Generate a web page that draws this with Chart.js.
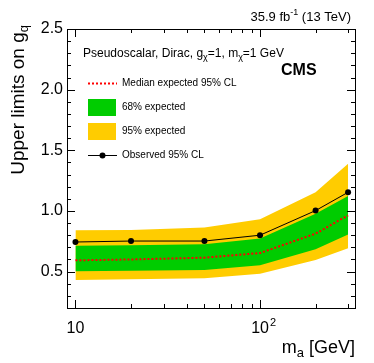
<!DOCTYPE html>
<html><head><meta charset="utf-8">
<script src="https://cdn.jsdelivr.net/npm/chart.js@4.4.1/dist/chart.umd.min.js"></script>
<style>html,body{margin:0;padding:0;background:#fff;}#wrap{width:374px;height:363px;}</style>
</head><body><div id="wrap"><canvas id="c" width="374" height="363"></canvas></div>
<script>
const mass = [10, 20, 50, 100, 200, 300];
const observed = [0.744, 0.752, 0.752, 0.800, 1.003, 1.154];
const median = [0.593, 0.600, 0.615, 0.653, 0.813, 0.964];
const band68Lo = [0.502, 0.508, 0.513, 0.552, 0.684, 0.805];
const band68Hi = [0.714, 0.718, 0.725, 0.772, 0.978, 1.123];
const band95Lo = [0.431, 0.437, 0.445, 0.483, 0.596, 0.692];
const band95Hi = [0.840, 0.843, 0.863, 0.931, 1.154, 1.390];
const xMajorTicks = [10, 100];
const xTickLabels = [['10',''], ['10','2']];
const xMinorTicks = [20,30,40,50,60,70,80,90,200,300];
const yMajorTicks = [0.5, 1.0, 1.5, 2.0, 2.5];
const yTickLabels = ['0.5','1.0','1.5','2.0','2.5'];
const yMinorTicks = [0.3,0.4,0.6,0.7,0.8,0.9,1.1,1.2,1.3,1.4,1.6,1.7,1.8,1.9,2.1,2.2,2.3,2.4];
const legendLabels = ['Median expected 95% CL','68% expected','95% expected','Observed 95% CL'];

const FONT = '"Liberation Sans", Arial, Helvetica, sans-serif';
const GREEN = '#00cc00', YELLOW = '#ffcc00';
const pts = arr => mass.map((m,i)=>({x:m, y:arr[i]}));

const overlay = {
  id:'overlay',
  afterDraw(chart){
    const ctx = chart.ctx, a = chart.chartArea, xs = chart.scales.x, ys = chart.scales.y;
    ctx.save();
    ctx.strokeStyle = '#000'; ctx.lineWidth = 1;
    ctx.strokeRect(Math.round(a.left)+0.5, Math.round(a.top)+0.5, Math.round(a.right-a.left), Math.round(a.bottom-a.top));
    ctx.beginPath();
    const tick = (v, len, isX) => {
      if (isX) {
        const px = Math.round(xs.getPixelForValue(v))+0.5;
        ctx.moveTo(px, a.bottom); ctx.lineTo(px, a.bottom-len);
        ctx.moveTo(px, a.top); ctx.lineTo(px, a.top+len);
      } else {
        const py = Math.round(ys.getPixelForValue(v))+0.5;
        ctx.moveTo(a.left, py); ctx.lineTo(a.left+len, py);
        ctx.moveTo(a.right, py); ctx.lineTo(a.right-len, py);
      }
    };
    xMajorTicks.forEach(v=>tick(v,8,true));
    xMinorTicks.forEach(v=>tick(v,4,true));
    yMajorTicks.forEach(v=>tick(v,8,false));
    yMinorTicks.forEach(v=>tick(v,4,false));
    ctx.stroke();

    ctx.fillStyle = '#000';
    ctx.font = '16px ' + FONT; ctx.textAlign = 'right'; ctx.textBaseline = 'middle';
    yMajorTicks.forEach((v,i)=>ctx.fillText(yTickLabels[i], a.left-4, ys.getPixelForValue(v)));
    xMajorTicks.forEach((v,i)=>{
      const px = xs.getPixelForValue(v);
      const [b,e] = xTickLabels[i];
      ctx.font = '16px ' + FONT; ctx.textAlign = 'center'; ctx.textBaseline = 'alphabetic';
      ctx.fillText(b, px, 333);
      if (e) {
        const w = ctx.measureText(b).width;
        ctx.font = '11px ' + FONT; ctx.textAlign = 'left';
        ctx.fillText(e, px + w/2 + 1, 326);
      }
    });
    // x title
    ctx.textAlign = 'left'; ctx.textBaseline = 'alphabetic';
    const t1 = 'm', t2 = ' [GeV]';
    ctx.font = '13px ' + FONT; const wa = ctx.measureText('a').width;
    ctx.font = '18px ' + FONT;
    const w1 = ctx.measureText(t1).width, w2 = ctx.measureText(t2).width;
    let xs0 = a.right - (w1+wa+w2);
    ctx.fillText(t1, xs0, 353);
    ctx.font = '13px ' + FONT; ctx.fillText('a', xs0+w1, 357);
    ctx.font = '18px ' + FONT; ctx.fillText(t2, xs0+w1+wa, 353);
    // y title
    ctx.save();
    ctx.font = '19px ' + FONT;
    const yt = 'Upper limits on g';
    const wy = ctx.measureText(yt).width;
    ctx.font = '13px ' + FONT; const wq = ctx.measureText('q').width;
    const total = wy + wq;
    ctx.translate(24, 25 + total);
    ctx.rotate(-Math.PI/2);
    ctx.font = '19px ' + FONT; ctx.textAlign='left';
    ctx.fillText(yt, 0, 0);
    ctx.font = '13px ' + FONT; ctx.fillText('q', wy, 4);
    ctx.restore();

    // lumi
    ctx.textAlign = 'left';
    ctx.font = '13px ' + FONT;
    const l1 = '35.9 fb', l3 = ' (13 TeV)';
    const wl1 = ctx.measureText(l1).width, wl3 = ctx.measureText(l3).width;
    ctx.font = '9px ' + FONT; const wl2 = ctx.measureText('-1').width;
    let lx = 351 - (wl1+wl2+wl3);
    ctx.font = '13px ' + FONT; ctx.fillText(l1, lx, 21);
    ctx.font = '9px ' + FONT; ctx.fillText('-1', lx+wl1, 15);
    ctx.font = '13px ' + FONT; ctx.fillText(l3, lx+wl1+wl2, 21);

    // header
    let hx = 83; const hy = 57;
    const seg = (txt, sub) => {
      ctx.font = (sub ? '9px ' : '12px ') + FONT;
      ctx.fillText(txt, hx, sub ? hy+3 : hy);
      hx += ctx.measureText(txt).width;
    };
    seg('Pseudoscalar, Dirac, g'); seg('\u03c7', true); seg('=1, m'); seg('\u03c7', true); seg('=1 GeV');

    ctx.font = 'bold 16px ' + FONT;
    ctx.fillText('CMS', 281, 75);

    // legend
    ctx.font = '10px ' + FONT; ctx.textBaseline = 'middle';
    const ly = [83.5, 107.5, 131, 155.5];
    ctx.save();
    ctx.strokeStyle = '#ff0000'; ctx.lineWidth = 2; ctx.setLineDash([2,2]);
    ctx.beginPath(); ctx.moveTo(88, ly[0]); ctx.lineTo(117, ly[0]); ctx.stroke();
    ctx.restore();
    ctx.fillStyle = GREEN; ctx.fillRect(88, 99, 28, 17);
    ctx.fillStyle = YELLOW; ctx.fillRect(88, 123, 28, 17);
    ctx.strokeStyle = '#000'; ctx.lineWidth = 1;
    ctx.beginPath(); ctx.moveTo(88, ly[3]); ctx.lineTo(117, ly[3]); ctx.stroke();
    ctx.fillStyle = '#000';
    ctx.beginPath(); ctx.arc(102.5, ly[3], 3, 0, Math.PI*2); ctx.fill();
    legendLabels.forEach((t,i)=>ctx.fillText(t, 122, ly[i]));
    ctx.restore();
  }
};

new Chart(document.getElementById('c'), {
  type: 'line',
  data: {
    datasets: [
      {label:'Observed', data: pts(observed), borderColor:'#000', borderWidth:1, pointRadius:3, pointBackgroundColor:'#000', pointBorderWidth:0, fill:false, order:0},
      {label:'Median', data: pts(median), borderColor:'#ff0000', borderWidth:2, borderDash:[2,2], pointRadius:0, fill:false, order:1},
      {label:'68hi', data: pts(band68Hi), borderWidth:0, borderColor:GREEN, pointRadius:0, backgroundColor:GREEN, fill:3, order:2},
      {label:'68lo', data: pts(band68Lo), borderWidth:0, borderColor:GREEN, pointRadius:0, fill:false, order:3},
      {label:'95hi', data: pts(band95Hi), borderWidth:0, borderColor:YELLOW, pointRadius:0, backgroundColor:YELLOW, fill:5, order:4},
      {label:'95lo', data: pts(band95Lo), borderWidth:0, borderColor:YELLOW, pointRadius:0, fill:false, order:5}
    ]
  },
  options: {
    responsive:false, animation:false,
    layout:{padding:{left:67, top:29, right:19, bottom:55}},
    plugins:{legend:{display:false}, tooltip:{enabled:false}},
    scales:{
      x:{type:'logarithmic', min:9, max:327, display:false},
      y:{type:'linear', min:0.2, max:2.5, display:false}
    }
  },
  plugins:[overlay]
});
</script>
</body></html>
